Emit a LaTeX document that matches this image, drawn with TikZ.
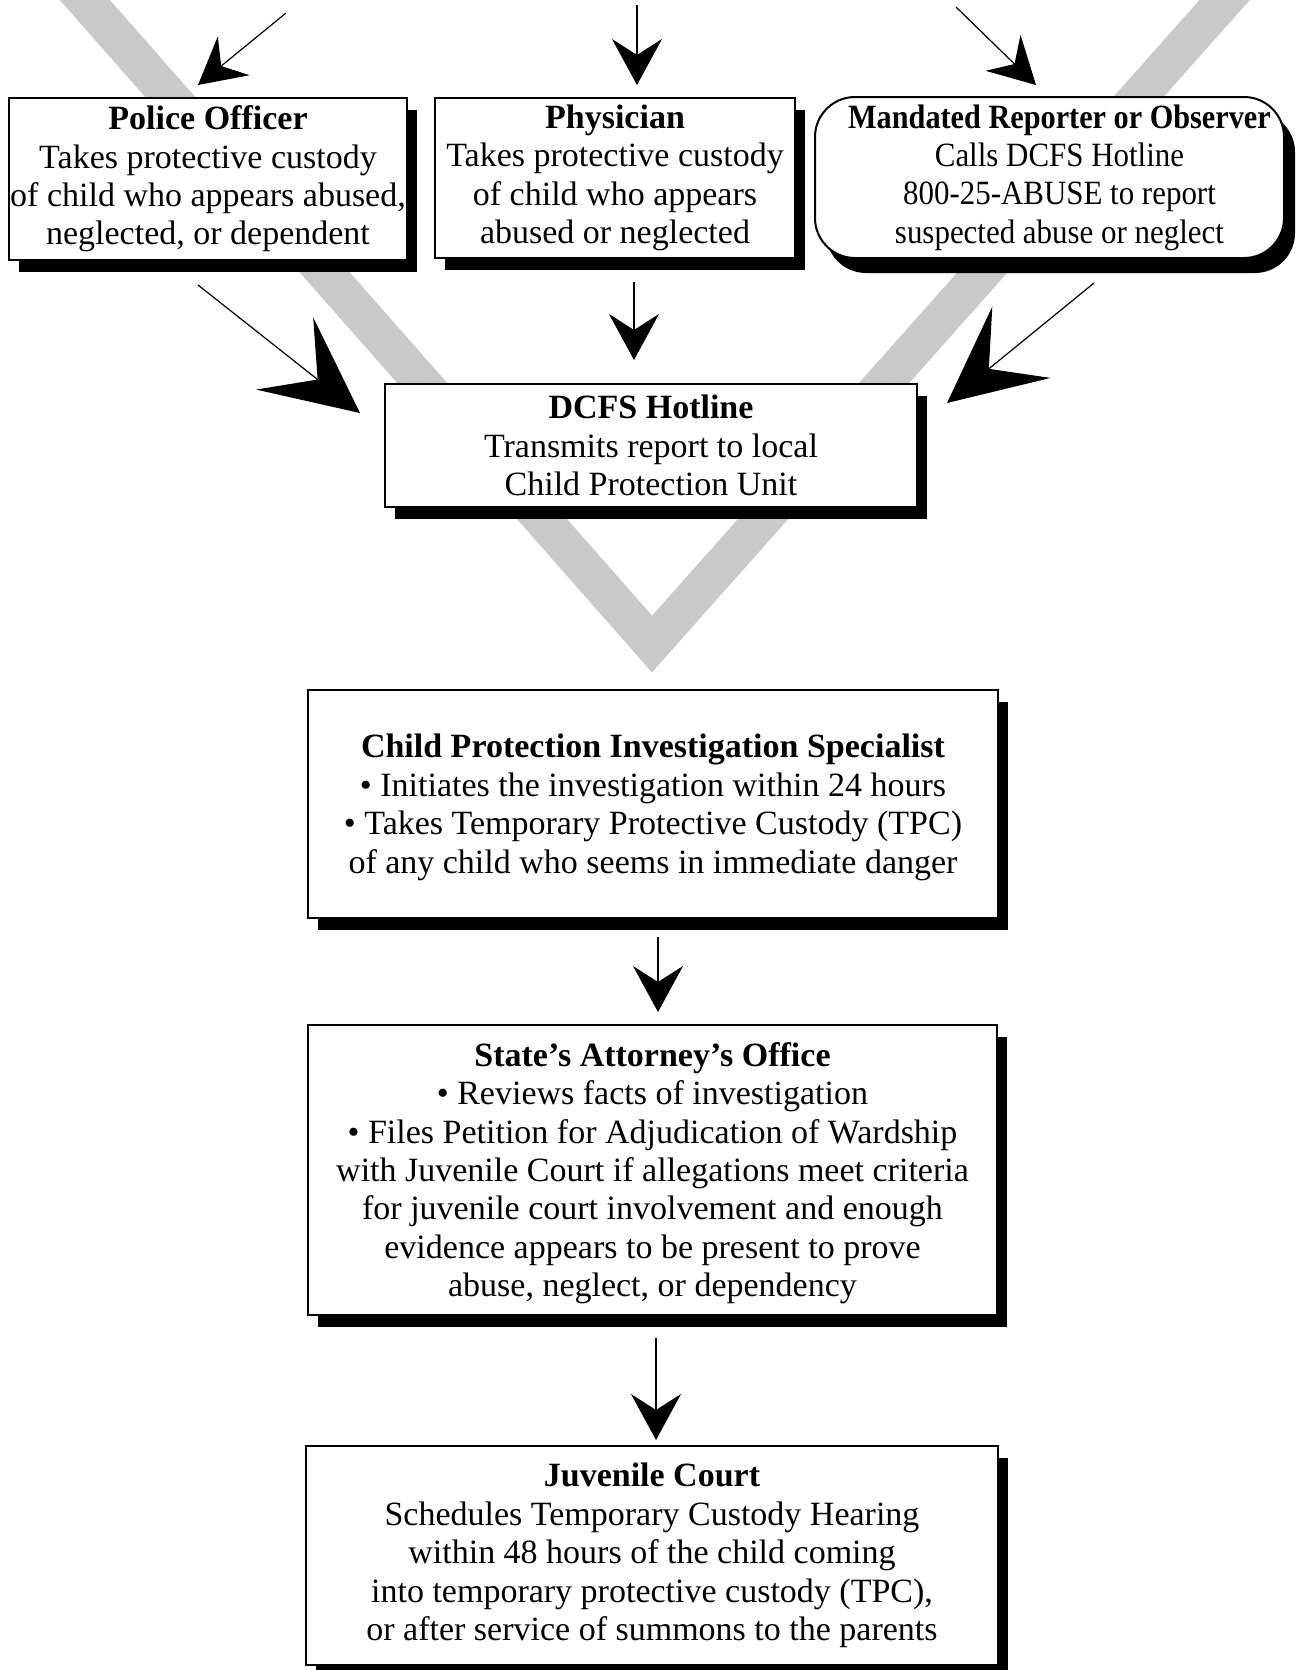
\documentclass[tikz,border=0pt]{standalone}
\usepackage{fontspec}
\setmainfont{Liberation Serif}
\usepackage{graphicx}
\usetikzlibrary{arrows.meta, shadows}

\definecolor{vgray}{RGB}{200,201,203}
\newcommand{\narrow}[2]{\scalebox{#1}[1]{#2}}

\begin{document}
\begin{tikzpicture}[
    x=0.5pt, y=-0.5pt,
    font=\fontsize{17}{19.2}\selectfont,
    boxbase/.style={draw=black, line width=1pt, fill=white, align=center, inner sep=0pt},
    box/.style={boxbase, rectangle, drop shadow={shadow xshift=5pt, shadow yshift=-6pt, fill=black, opacity=1}},
    roundbox/.style={boxbase, rectangle, rounded corners=20pt, drop shadow={shadow xshift=5.5pt, shadow yshift=-7.5pt, fill=black, opacity=1}},
    thinarrow/.style={line width=0.6pt, -{Stealth[length=23pt, width=25pt, inset=8pt]}},
    bigarrow/.style={line width=0.6pt, -{Stealth[length=48pt, width=46pt, inset=21pt]}}
]

\useasboundingbox (0,0) rectangle (1298,1670);

% grey V behind the boxes
\begin{scope}
\clip (0,0) rectangle (1298,1670);
\draw[vgray, line width=18.8pt, line join=miter] (32,-60) -- (652,644) -- (1278,-60);
\end{scope}

\node[box, minimum width=199pt, minimum height=81pt] (police) at (208,179) {\textbf{Police Officer}\\Takes protective custody\\of child who appears abused,\\neglected, or dependent};
\node[box, minimum width=180pt, minimum height=80pt] (physician) at (615,178) {\textbf{Physician}\\Takes protective custody\\of child who appears\\abused or neglected};
\node[roundbox, minimum width=234.5pt, minimum height=80.5pt] (reporter) at (1049.5,177.5) {\hspace*{10pt}\narrow{0.89}{\textbf{Mandated Reporter or Observer}}\\\hspace*{10pt}\narrow{0.91}{Calls DCFS Hotline}\\\hspace*{10pt}\narrow{0.91}{800-25-ABUSE to report}\\\hspace*{10pt}\narrow{0.91}{suspected abuse or neglect}};

\node[box, minimum width=266pt, minimum height=61.5pt] (hotline) at (651,445.5) {\textbf{DCFS Hotline}\\Transmits report to local\\Child Protection Unit};

\node[box, minimum width=345pt, minimum height=114pt] (cpis) at (653,804) {\\[-4pt]\textbf{Child Protection Investigation Specialist}\\\textbullet{} Initiates the investigation within 24 hours\\\textbullet{} Takes Temporary Protective Custody (TPC)\\of any child who seems in immediate danger};
\node[box, minimum width=344.5pt, minimum height=145pt] (attorney) at (652.5,1170) {\\[-4pt]\textbf{State's Attorney's Office}\\\textbullet{} Reviews facts of investigation\\\textbullet{} Files Petition for Adjudication of Wardship\\with Juvenile Court if allegations meet criteria\\for juvenile court involvement and enough\\evidence appears to be present to prove\\abuse, neglect, or dependency};
\node[box, minimum width=346pt, minimum height=109.5pt] (court) at (652,1555.5) {\textbf{Juvenile Court}\\Schedules Temporary Custody Hearing\\within 48 hours of the child coming\\into temporary protective custody (TPC),\\or after service of summons to the parents};

% arrow ends
\coordinate (in1) at (286,13);
\coordinate (to1) at (198,85);
\coordinate (in2) at (637,5);
\coordinate (to2) at (637,85);
\coordinate (in3) at (956,7);
\coordinate (to3) at (1036,85);
\coordinate (out1) at (198,285);
\coordinate (hot1) at (360,413);
\coordinate (out2) at (634,282);
\coordinate (hot2) at (634,360);
\coordinate (out3) at (1094,283);
\coordinate (hot3) at (947,403);
\coordinate (cpisout) at (658,937);
\coordinate (attin) at (658,1012);
\coordinate (attout) at (656,1338);
\coordinate (courtin) at (656,1440);

\draw[thinarrow] (in1) -- (to1);
\draw[thinarrow] (in2) -- (to2);
\draw[thinarrow] (in3) -- (to3);
\draw[bigarrow] (out1) -- (hot1);
\draw[thinarrow] (out2) -- (hot2);
\draw[bigarrow] (out3) -- (hot3);
\draw[thinarrow] (cpisout) -- (attin);
\draw[thinarrow] (attout) -- (courtin);

\end{tikzpicture}
\end{document}
